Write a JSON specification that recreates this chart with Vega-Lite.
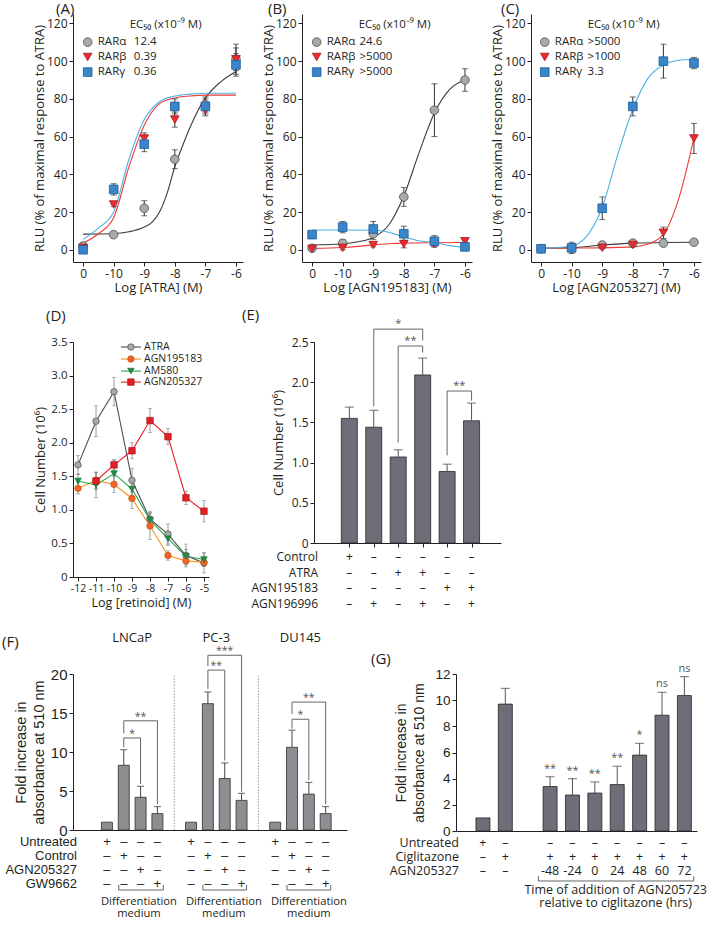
{
"$schema":"https://vega.github.io/schema/vega-lite/v6.json",
"background":"white",
"padding":{"left":2,"top":2,"right":2,"bottom":2},
"config":{
 "view":{"stroke":null},
 "font":"Open Sans",
 "axis":{"domainColor":"#231f20","tickColor":"#231f20","labelColor":"#231f20","titleColor":"#231f20","labelFont":"Open Sans","titleFont":"Open Sans","titleFontWeight":"normal","labelFontSize":12,"titleFontSize":13,"tickSize":4,"grid":false,"labelPadding":2,"titlePadding":5,"labelFlush":false,"labelOverlap":false,"labelBound":false,"domainWidth":1,"tickWidth":1},
 "title":{"font":"Open Sans","fontSize":15,"fontWeight":"normal","anchor":"start","frame":"group","color":"#231f20"},
 "text":{"font":"Open Sans","color":"#231f20"}
},
"datasets":{
 "Apts":[
  {"r":"RARα","d":-11,"v":2,"lo":0.5,"hi":3.5},{"r":"RARα","d":-10,"v":8,"lo":6.5,"hi":9.5},{"r":"RARα","d":-9,"v":22,"lo":18,"hi":26},{"r":"RARα","d":-8,"v":48,"lo":43,"hi":53},{"r":"RARα","d":-7,"v":77,"lo":73,"hi":81},{"r":"RARα","d":-6,"v":101,"lo":93,"hi":109},
  {"r":"RARβ","d":-11,"v":1,"lo":0,"hi":2},{"r":"RARβ","d":-10,"v":24,"lo":23,"hi":25},{"r":"RARβ","d":-9,"v":59,"lo":56,"hi":62},{"r":"RARβ","d":-8,"v":69,"lo":65,"hi":73},{"r":"RARβ","d":-7,"v":74,"lo":71,"hi":77},{"r":"RARβ","d":-6,"v":101,"lo":95,"hi":107},
  {"r":"RARγ","d":-11,"v":0,"lo":-1,"hi":1},{"r":"RARγ","d":-10,"v":32,"lo":29,"hi":35},{"r":"RARγ","d":-9,"v":56,"lo":52,"hi":60},{"r":"RARγ","d":-8,"v":76,"lo":72,"hi":80},{"r":"RARγ","d":-7,"v":76,"lo":72,"hi":80},{"r":"RARγ","d":-6,"v":98,"lo":92,"hi":104}],
 "Afit":[
  {"r":"RARα","d":-11,"v":8.3},{"r":"RARα","d":-10,"v":8.5},{"r":"RARα","d":-9.5,"v":9.5},{"r":"RARα","d":-9,"v":12},{"r":"RARα","d":-8.75,"v":14.5},{"r":"RARα","d":-8.5,"v":20},{"r":"RARα","d":-8.25,"v":30},{"r":"RARα","d":-8,"v":44},{"r":"RARα","d":-7.75,"v":55},{"r":"RARα","d":-7.5,"v":65},{"r":"RARα","d":-7,"v":80.5},{"r":"RARα","d":-6.5,"v":89},{"r":"RARα","d":-6,"v":94.5},
  {"r":"RARβ","d":-11,"v":3.5},{"r":"RARβ","d":-10.5,"v":8.5},{"r":"RARβ","d":-10,"v":17},{"r":"RARβ","d":-9.5,"v":44},{"r":"RARβ","d":-9,"v":66},{"r":"RARβ","d":-8.5,"v":77.5},{"r":"RARβ","d":-8,"v":80.5},{"r":"RARβ","d":-7.5,"v":81.5},{"r":"RARβ","d":-7,"v":82},{"r":"RARβ","d":-6,"v":82},
  {"r":"RARγ","d":-11,"v":5.5},{"r":"RARγ","d":-10.5,"v":11.5},{"r":"RARγ","d":-10,"v":20},{"r":"RARγ","d":-9.5,"v":48},{"r":"RARγ","d":-9,"v":69},{"r":"RARγ","d":-8.5,"v":78.5},{"r":"RARγ","d":-8,"v":81.5},{"r":"RARγ","d":-7.5,"v":82.5},{"r":"RARγ","d":-7,"v":83},{"r":"RARγ","d":-6,"v":83}],
 "Bpts":[
  {"r":"RARα","d":-11,"v":0.8,"lo":0.3,"hi":1.3},{"r":"RARα","d":-10,"v":3.4,"lo":1.4,"hi":5.4},{"r":"RARα","d":-9,"v":8.5,"lo":5.5,"hi":11.5},{"r":"RARα","d":-8,"v":28,"lo":23,"hi":33},{"r":"RARα","d":-7,"v":74,"lo":60,"hi":88},{"r":"RARα","d":-6,"v":90,"lo":84,"hi":96},
  {"r":"RARβ","d":-11,"v":0.5,"lo":0,"hi":1},{"r":"RARβ","d":-10,"v":1,"lo":0,"hi":2},{"r":"RARβ","d":-9,"v":2.5,"lo":1.5,"hi":3.5},{"r":"RARβ","d":-8,"v":3,"lo":1,"hi":5},{"r":"RARβ","d":-7,"v":3,"lo":1.5,"hi":4.5},{"r":"RARβ","d":-6,"v":4.5,"lo":3.5,"hi":5.5},
  {"r":"RARγ","d":-11,"v":8,"lo":7,"hi":9},{"r":"RARγ","d":-10,"v":12,"lo":9,"hi":15},{"r":"RARγ","d":-9,"v":11,"lo":7,"hi":15},{"r":"RARγ","d":-8,"v":8.5,"lo":4.5,"hi":12.5},{"r":"RARγ","d":-7,"v":4.5,"lo":1.5,"hi":7.5},{"r":"RARγ","d":-6,"v":1.5,"lo":0.5,"hi":2.5}],
 "Bfit":[
  {"r":"RARα","d":-11,"v":2.5},{"r":"RARα","d":-10,"v":3.2},{"r":"RARα","d":-9.5,"v":4.2},{"r":"RARα","d":-9,"v":6.5},{"r":"RARα","d":-8.5,"v":13},{"r":"RARα","d":-8,"v":28.5},{"r":"RARα","d":-7.5,"v":51.5},{"r":"RARα","d":-7,"v":72.5},{"r":"RARα","d":-6.5,"v":85},{"r":"RARα","d":-6,"v":90},
  {"r":"RARβ","d":-11,"v":0.7},{"r":"RARβ","d":-10,"v":1.2},{"r":"RARβ","d":-9.5,"v":1.8},{"r":"RARβ","d":-9,"v":2.6},{"r":"RARβ","d":-8.5,"v":3.2},{"r":"RARβ","d":-8,"v":3.5},{"r":"RARβ","d":-7,"v":3.7},{"r":"RARβ","d":-6,"v":3.8},
  {"r":"RARγ","d":-11,"v":10.5},{"r":"RARγ","d":-10,"v":10.5},{"r":"RARγ","d":-9,"v":10.3},{"r":"RARγ","d":-8.5,"v":9.3},{"r":"RARγ","d":-8,"v":6.8},{"r":"RARγ","d":-7.5,"v":4.8},{"r":"RARγ","d":-7,"v":3.8},{"r":"RARγ","d":-6.5,"v":2.2},{"r":"RARγ","d":-6,"v":1.3}],
 "Cpts":[
  {"r":"RARα","d":-11,"v":0.5,"lo":0,"hi":1},{"r":"RARα","d":-10,"v":1,"lo":0.5,"hi":1.5},{"r":"RARα","d":-9,"v":2.5,"lo":1.5,"hi":3.5},{"r":"RARα","d":-8,"v":3.5,"lo":2.5,"hi":4.5},{"r":"RARα","d":-7,"v":3.5,"lo":2.5,"hi":4.5},{"r":"RARα","d":-6,"v":4,"lo":3,"hi":5},
  {"r":"RARβ","d":-11,"v":0.3,"lo":0,"hi":0.6},{"r":"RARβ","d":-10,"v":0.3,"lo":-0.2,"hi":0.8},{"r":"RARβ","d":-9,"v":1,"lo":0.5,"hi":1.5},{"r":"RARβ","d":-8,"v":2.5,"lo":1.5,"hi":3.5},{"r":"RARβ","d":-7,"v":9,"lo":6,"hi":12},{"r":"RARβ","d":-6,"v":59,"lo":51,"hi":67},
  {"r":"RARγ","d":-11,"v":0.5,"lo":0,"hi":1},{"r":"RARγ","d":-10,"v":1,"lo":-2,"hi":4},{"r":"RARγ","d":-9,"v":22,"lo":16,"hi":28},{"r":"RARγ","d":-8,"v":76,"lo":71,"hi":81},{"r":"RARγ","d":-7,"v":100,"lo":91,"hi":109},{"r":"RARγ","d":-6,"v":99,"lo":96,"hi":102}],
 "Cfit":[
  {"r":"RARα","d":-11,"v":0.8},{"r":"RARα","d":-10,"v":1.1},{"r":"RARα","d":-9,"v":2.5},{"r":"RARα","d":-8,"v":3.5},{"r":"RARα","d":-7,"v":3.8},{"r":"RARα","d":-6,"v":4},
  {"r":"RARβ","d":-11,"v":0.8},{"r":"RARβ","d":-10,"v":0.9},{"r":"RARβ","d":-9,"v":1},{"r":"RARβ","d":-8,"v":1.5},{"r":"RARβ","d":-7.5,"v":3},{"r":"RARβ","d":-7,"v":8.3},{"r":"RARβ","d":-6.5,"v":27},{"r":"RARβ","d":-6,"v":59.5},
  {"r":"RARγ","d":-11,"v":0.7},{"r":"RARγ","d":-10,"v":2},{"r":"RARγ","d":-9.5,"v":7.4},{"r":"RARγ","d":-9,"v":22.4},{"r":"RARγ","d":-8.5,"v":50},{"r":"RARγ","d":-8,"v":74.5},{"r":"RARγ","d":-7.5,"v":91},{"r":"RARγ","d":-7,"v":98},{"r":"RARγ","d":-6.5,"v":100.5},{"r":"RARγ","d":-6,"v":101}],
 "D":[
  {"s":"ATRA","c":-12,"v":1.67,"lo":1.53,"hi":1.81},{"s":"ATRA","c":-11,"v":2.32,"lo":2.09,"hi":2.55},{"s":"ATRA","c":-10,"v":2.76,"lo":2.55,"hi":2.97},{"s":"ATRA","c":-9,"v":1.44,"lo":1.26,"hi":1.62},{"s":"ATRA","c":-8,"v":0.86,"lo":0.74,"hi":0.98},{"s":"ATRA","c":-7,"v":0.64,"lo":0.49,"hi":0.79},{"s":"ATRA","c":-6,"v":0.32,"lo":0.15,"hi":0.49},{"s":"ATRA","c":-5,"v":0.21,"lo":0.06,"hi":0.36},
  {"s":"AGN195183","c":-12,"v":1.32,"lo":1.24,"hi":1.4},{"s":"AGN195183","c":-11,"v":1.44,"lo":1.32,"hi":1.56},{"s":"AGN195183","c":-10,"v":1.38,"lo":1.26,"hi":1.5},{"s":"AGN195183","c":-9,"v":1.17,"lo":1.02,"hi":1.32},{"s":"AGN195183","c":-8,"v":0.76,"lo":0.56,"hi":0.96},{"s":"AGN195183","c":-7,"v":0.32,"lo":0.25,"hi":0.39},{"s":"AGN195183","c":-6,"v":0.24,"lo":0.18,"hi":0.3},{"s":"AGN195183","c":-5,"v":0.22,"lo":0.16,"hi":0.28},
  {"s":"AM580","c":-12,"v":1.43,"lo":1.33,"hi":1.53},{"s":"AM580","c":-11,"v":1.37,"lo":1.18,"hi":1.56},{"s":"AM580","c":-10,"v":1.54,"lo":1.34,"hi":1.74},{"s":"AM580","c":-9,"v":1.31,"lo":1.21,"hi":1.41},{"s":"AM580","c":-8,"v":0.85,"lo":0.75,"hi":0.95},{"s":"AM580","c":-7,"v":0.57,"lo":0.47,"hi":0.67},{"s":"AM580","c":-6,"v":0.31,"lo":0.21,"hi":0.41},{"s":"AM580","c":-5,"v":0.26,"lo":0.16,"hi":0.36},
  {"s":"AGN205327","c":-11,"v":1.43,"lo":1.3,"hi":1.56},{"s":"AGN205327","c":-10,"v":1.67,"lo":1.59,"hi":1.75},{"s":"AGN205327","c":-9,"v":1.88,"lo":1.76,"hi":2.0},{"s":"AGN205327","c":-8,"v":2.33,"lo":2.15,"hi":2.51},{"s":"AGN205327","c":-7,"v":2.09,"lo":1.97,"hi":2.21},{"s":"AGN205327","c":-6,"v":1.18,"lo":1.08,"hi":1.28},{"s":"AGN205327","c":-5,"v":0.98,"lo":0.82,"hi":1.14}],
 "E":[{"i":1,"v":1.55,"hi":1.69},{"i":2,"v":1.44,"hi":1.65},{"i":3,"v":1.07,"hi":1.16},{"i":4,"v":2.09,"hi":2.3},{"i":5,"v":0.89,"hi":0.98},{"i":6,"v":1.52,"hi":1.74}],
 "Ebr":[{"x1":2,"x2":4,"xm":3,"top":2.66,"l1":1.7,"l2":2.52,"lab":"*"},{"x1":3,"x2":4,"xm":3.5,"top":2.45,"l1":1.25,"l2":2.37,"lab":"**"},{"x1":5,"x2":6,"xm":5.5,"top":1.89,"l1":1.09,"l2":1.77,"lab":"**"}],
 "Etab":[
  {"r":1,"i":1,"s":"+"},{"r":1,"i":2,"s":"–"},{"r":1,"i":3,"s":"–"},{"r":1,"i":4,"s":"–"},{"r":1,"i":5,"s":"–"},{"r":1,"i":6,"s":"–"},
  {"r":2,"i":1,"s":"–"},{"r":2,"i":2,"s":"–"},{"r":2,"i":3,"s":"+"},{"r":2,"i":4,"s":"+"},{"r":2,"i":5,"s":"–"},{"r":2,"i":6,"s":"–"},
  {"r":3,"i":1,"s":"–"},{"r":3,"i":2,"s":"–"},{"r":3,"i":3,"s":"–"},{"r":3,"i":4,"s":"–"},{"r":3,"i":5,"s":"+"},{"r":3,"i":6,"s":"+"},
  {"r":4,"i":1,"s":"–"},{"r":4,"i":2,"s":"+"},{"r":4,"i":3,"s":"–"},{"r":4,"i":4,"s":"+"},{"r":4,"i":5,"s":"–"},{"r":4,"i":6,"s":"+"}],
 "Erows":[{"r":1,"lab":"Control"},{"r":2,"lab":"ATRA"},{"r":3,"lab":"AGN195183"},{"r":4,"lab":"AGN196996"}],
 "F":[{"x":1,"v":1},{"x":2,"v":8.3,"hi":10.3},{"x":3,"v":4.2,"hi":5.6},{"x":4,"v":2.1,"hi":3.0},{"x":6,"v":1},{"x":7,"v":16.2,"hi":17.7},{"x":8,"v":6.6,"hi":8.6},{"x":9,"v":3.8,"hi":4.7},{"x":11,"v":1},{"x":12,"v":10.6,"hi":12.8},{"x":13,"v":4.6,"hi":6.1},{"x":14,"v":2.1,"hi":3.0}],
 "Fbr":[{"x1":2,"x2":3,"xm":2.5,"top":11.8,"l1":10.6,"l2":5.9,"lab":"*"},{"x1":2,"x2":4,"xm":3,"top":14.0,"l1":12.4,"l2":3.3,"lab":"**"},{"x1":7,"x2":8,"xm":7.5,"top":20.5,"l1":18.1,"l2":8.9,"lab":"**"},{"x1":7,"x2":9,"xm":8,"top":22.4,"l1":21.0,"l2":4.9,"lab":"***"},{"x1":12,"x2":13,"xm":12.5,"top":14.2,"l1":13.0,"l2":6.4,"lab":"*"},{"x1":12,"x2":14,"xm":13,"top":16.4,"l1":14.9,"l2":3.3,"lab":"**"}],
 "Fsep":[{"x":5},{"x":10}],
 "Fgrp":[{"g":"LNCaP","gx":2.5},{"g":"PC-3","gx":7.5},{"g":"DU145","gx":12.5}],
 "Ftab":[
  {"r":1,"x":1,"s":"+"},{"r":1,"x":2,"s":"–"},{"r":1,"x":3,"s":"–"},{"r":1,"x":4,"s":"–"},{"r":1,"x":6,"s":"+"},{"r":1,"x":7,"s":"–"},{"r":1,"x":8,"s":"–"},{"r":1,"x":9,"s":"–"},{"r":1,"x":11,"s":"+"},{"r":1,"x":12,"s":"–"},{"r":1,"x":13,"s":"–"},{"r":1,"x":14,"s":"–"},
  {"r":2,"x":1,"s":"–"},{"r":2,"x":2,"s":"+"},{"r":2,"x":3,"s":"–"},{"r":2,"x":4,"s":"–"},{"r":2,"x":6,"s":"–"},{"r":2,"x":7,"s":"+"},{"r":2,"x":8,"s":"–"},{"r":2,"x":9,"s":"–"},{"r":2,"x":11,"s":"–"},{"r":2,"x":12,"s":"+"},{"r":2,"x":13,"s":"–"},{"r":2,"x":14,"s":"–"},
  {"r":3,"x":1,"s":"–"},{"r":3,"x":2,"s":"–"},{"r":3,"x":3,"s":"+"},{"r":3,"x":4,"s":"–"},{"r":3,"x":6,"s":"–"},{"r":3,"x":7,"s":"–"},{"r":3,"x":8,"s":"+"},{"r":3,"x":9,"s":"–"},{"r":3,"x":11,"s":"–"},{"r":3,"x":12,"s":"–"},{"r":3,"x":13,"s":"+"},{"r":3,"x":14,"s":"–"},
  {"r":4,"x":1,"s":"–"},{"r":4,"x":2,"s":"–"},{"r":4,"x":3,"s":"–"},{"r":4,"x":4,"s":"+"},{"r":4,"x":6,"s":"–"},{"r":4,"x":7,"s":"–"},{"r":4,"x":8,"s":"–"},{"r":4,"x":9,"s":"+"},{"r":4,"x":11,"s":"–"},{"r":4,"x":12,"s":"–"},{"r":4,"x":13,"s":"–"},{"r":4,"x":14,"s":"+"}],
 "Frows":[{"r":1,"lab":"Untreated"},{"r":2,"lab":"Control"},{"r":3,"lab":"AGN205327"},{"r":4,"lab":"GW9662"}],
 "Fdm":[{"b1":1.7,"b2":4.35,"c":2.9},{"b1":6.7,"b2":9.3,"c":7.95},{"b1":11.7,"b2":14.3,"c":13}],
 "G":[{"p":0,"v":1.0},{"p":1,"v":9.7,"hi":10.9},{"p":3,"v":3.4,"hi":4.15,"sig":"**"},{"p":4,"v":2.75,"hi":4.0,"sig":"**"},{"p":5,"v":2.9,"hi":3.75,"sig":"**"},{"p":6,"v":3.55,"hi":4.95,"sig":"**"},{"p":7,"v":5.8,"hi":6.7,"sig":"*"},{"p":8,"v":8.85,"hi":10.6,"sig":"ns"},{"p":9,"v":10.35,"hi":11.8,"sig":"ns"}],
 "Gtab":[
  {"r":1,"p":0,"s":"+"},{"r":1,"p":1,"s":"–"},{"r":1,"p":3,"s":"–"},{"r":1,"p":4,"s":"–"},{"r":1,"p":5,"s":"–"},{"r":1,"p":6,"s":"–"},{"r":1,"p":7,"s":"–"},{"r":1,"p":8,"s":"–"},{"r":1,"p":9,"s":"–"},
  {"r":2,"p":0,"s":"–"},{"r":2,"p":1,"s":"+"},{"r":2,"p":3,"s":"+"},{"r":2,"p":4,"s":"+"},{"r":2,"p":5,"s":"+"},{"r":2,"p":6,"s":"+"},{"r":2,"p":7,"s":"+"},{"r":2,"p":8,"s":"+"},{"r":2,"p":9,"s":"+"},
  {"r":3,"p":0,"s":"–"},{"r":3,"p":1,"s":"–"},{"r":3,"p":3,"s":"-48"},{"r":3,"p":4,"s":"-24"},{"r":3,"p":5,"s":"0"},{"r":3,"p":6,"s":"24"},{"r":3,"p":7,"s":"48"},{"r":3,"p":8,"s":"60"},{"r":3,"p":9,"s":"72"}],
 "Grows":[{"r":1,"lab":"Untreated"},{"r":2,"lab":"Ciglitazone"},{"r":3,"lab":"AGN205327"}],
 "Gdm":[{"b1":2.48,"b2":9.42,"c":5.93}]
},
"align":"none",
"resolve":{"scale":{"color":"independent","shape":"independent","fill":"independent","stroke":"independent"}},
"vconcat":[
 {"hconcat":[
  {"width":170,"height":248,
   "layer":[
    {"data":{"name":"Afit"},"mark":{"type":"line","interpolate":"monotone","strokeWidth":1.1},
     "encoding":{
      "x":{"field":"d","type":"quantitative","scale":{"domain":[-11.33,-5.77],"nice":false,"zero":false},"axis":{"values":[-11,-10,-9,-8,-7,-6],"tickCount":20,"labelExpr":"datum.value==-11?'0':''+datum.value","title":"Log [ATRA] (M)","titlePadding":2,"labelOverlap":false}},
      "y":{"field":"v","type":"quantitative","scale":{"domain":[-6.5,125],"nice":false,"zero":false},"axis":{"values":[0,20,40,60,80,100,120],"tickCount":20,"title":"RLU (% of maximal response to ATRA)","titlePadding":0,"labelOverlap":false}},
      "color":{"field":"r","type":"nominal","scale":{"domain":["RARα","RARβ","RARγ"],"range":["#3a3a3a","#ee3b37","#4fb0e5"]},"legend":null}}},
    {"data":{"name":"Apts"},"mark":{"type":"rule","color":"#333333","strokeWidth":1},
     "encoding":{"x":{"field":"d","type":"quantitative"},"y":{"field":"lo","type":"quantitative"},"y2":{"field":"hi"}}},
    {"data":{"name":"Apts"},"mark":{"type":"tick","orient":"horizontal","size":6,"thickness":1,"color":"#333333"},
     "encoding":{"x":{"field":"d","type":"quantitative"},"y":{"field":"lo","type":"quantitative"}}},
    {"data":{"name":"Apts"},"mark":{"type":"tick","orient":"horizontal","size":6,"thickness":1,"color":"#333333"},
     "encoding":{"x":{"field":"d","type":"quantitative"},"y":{"field":"hi","type":"quantitative"}}},
    {"data":{"name":"Apts"},"mark":{"type":"point","filled":true,"opacity":1,"size":75,"strokeWidth":0.8},
     "encoding":{"x":{"field":"d","type":"quantitative"},"y":{"field":"v","type":"quantitative"},
      "shape":{"field":"r","type":"nominal","scale":{"domain":["RARα","RARβ","RARγ"],"range":["circle","triangle-down","square"]},"legend":null},
      "fill":{"field":"r","type":"nominal","scale":{"domain":["RARα","RARβ","RARγ"],"range":["#a7a9ac","#ed2a2f","#3a86cb"]},"legend":null},
      "stroke":{"field":"r","type":"nominal","scale":{"domain":["RARα","RARβ","RARγ"],"range":["#505052","#a01b1f","#1d5a99"]},"legend":null}}},
    {"data":{"values":[{}]},"mark":{"type":"point","shape":"circle","filled":true,"opacity":1,"fill":"#a7a9ac","stroke":"#505052","strokeWidth":0.8,"size":75},"encoding":{"x":{"datum":-10.85},"y":{"datum":110.1}}},
    {"data":{"values":[{}]},"mark":{"type":"point","shape":"triangle-down","filled":true,"opacity":1,"fill":"#ed2a2f","stroke":"#a01b1f","strokeWidth":0.8,"size":75},"encoding":{"x":{"datum":-10.85},"y":{"datum":102.2}}},
    {"data":{"values":[{}]},"mark":{"type":"point","shape":"square","filled":true,"opacity":1,"fill":"#3a86cb","stroke":"#1d5a99","strokeWidth":0.8,"size":75},"encoding":{"x":{"datum":-10.85},"y":{"datum":94.2}}},
    {"data":{"values":[{}]},"mark":{"type":"text","text":"RARα","fontSize":11.5,"align":"left","baseline":"middle"},"encoding":{"x":{"datum":-10.52},"y":{"datum":110.1}}},
    {"data":{"values":[{}]},"mark":{"type":"text","text":"RARβ","fontSize":11.5,"align":"left","baseline":"middle"},"encoding":{"x":{"datum":-10.52},"y":{"datum":102.2}}},
    {"data":{"values":[{}]},"mark":{"type":"text","text":"RARγ","fontSize":11.5,"align":"left","baseline":"middle"},"encoding":{"x":{"datum":-10.52},"y":{"datum":94.2}}},
    {"data":{"values":[{}]},"mark":{"type":"text","text":"12.4","fontSize":11.5,"align":"left","baseline":"middle"},"encoding":{"x":{"datum":-9.34},"y":{"datum":110.1}}},
    {"data":{"values":[{}]},"mark":{"type":"text","text":"0.39","fontSize":11.5,"align":"left","baseline":"middle"},"encoding":{"x":{"datum":-9.34},"y":{"datum":102.2}}},
    {"data":{"values":[{}]},"mark":{"type":"text","text":"0.36","fontSize":11.5,"align":"left","baseline":"middle"},"encoding":{"x":{"datum":-9.34},"y":{"datum":94.2}}},
    {"data":{"values":[{}]},"mark":{"type":"text","text":"EC₅₀ (x10⁻⁹ M)","fontSize":11.5,"align":"center","baseline":"middle"},
     "encoding":{"x":{"datum":-8.3},"y":{"datum":119}}},
    {"data":{"values":[{}]},"mark":{"type":"text","text":"(A)","fontSize":15,"align":"left","baseline":"middle","dx":-17,"dy":-5},
     "encoding":{"x":{"datum":-11.33},"y":{"datum":125}}}
   ]},
  {"width":170,"height":248,
   "layer":[
    {"data":{"name":"Bfit"},"mark":{"type":"line","interpolate":"monotone","strokeWidth":1.1},
     "encoding":{
      "x":{"field":"d","type":"quantitative","scale":{"domain":[-11.33,-5.77],"nice":false,"zero":false},"axis":{"values":[-11,-10,-9,-8,-7,-6],"tickCount":20,"labelExpr":"datum.value==-11?'0':''+datum.value","title":"Log [AGN195183] (M)","titlePadding":2,"labelOverlap":false}},
      "y":{"field":"v","type":"quantitative","scale":{"domain":[-6.5,125],"nice":false,"zero":false},"axis":{"values":[0,20,40,60,80,100,120],"tickCount":20,"title":"RLU (% of maximal response to ATRA)","titlePadding":0,"labelOverlap":false}},
      "color":{"field":"r","type":"nominal","scale":{"domain":["RARα","RARβ","RARγ"],"range":["#3a3a3a","#ee3b37","#4fb0e5"]},"legend":null}}},
    {"data":{"name":"Bpts"},"mark":{"type":"rule","color":"#333333","strokeWidth":1},
     "encoding":{"x":{"field":"d","type":"quantitative"},"y":{"field":"lo","type":"quantitative"},"y2":{"field":"hi"}}},
    {"data":{"name":"Bpts"},"mark":{"type":"tick","orient":"horizontal","size":6,"thickness":1,"color":"#333333"},
     "encoding":{"x":{"field":"d","type":"quantitative"},"y":{"field":"lo","type":"quantitative"}}},
    {"data":{"name":"Bpts"},"mark":{"type":"tick","orient":"horizontal","size":6,"thickness":1,"color":"#333333"},
     "encoding":{"x":{"field":"d","type":"quantitative"},"y":{"field":"hi","type":"quantitative"}}},
    {"data":{"name":"Bpts"},"mark":{"type":"point","filled":true,"opacity":1,"size":75,"strokeWidth":0.8},
     "encoding":{"x":{"field":"d","type":"quantitative"},"y":{"field":"v","type":"quantitative"},
      "shape":{"field":"r","type":"nominal","scale":{"domain":["RARα","RARβ","RARγ"],"range":["circle","triangle-down","square"]},"legend":null},
      "fill":{"field":"r","type":"nominal","scale":{"domain":["RARα","RARβ","RARγ"],"range":["#a7a9ac","#ed2a2f","#3a86cb"]},"legend":null},
      "stroke":{"field":"r","type":"nominal","scale":{"domain":["RARα","RARβ","RARγ"],"range":["#505052","#a01b1f","#1d5a99"]},"legend":null}}},
    {"data":{"values":[{}]},"mark":{"type":"point","shape":"circle","filled":true,"opacity":1,"fill":"#a7a9ac","stroke":"#505052","strokeWidth":0.8,"size":75},"encoding":{"x":{"datum":-10.85},"y":{"datum":110.1}}},
    {"data":{"values":[{}]},"mark":{"type":"point","shape":"triangle-down","filled":true,"opacity":1,"fill":"#ed2a2f","stroke":"#a01b1f","strokeWidth":0.8,"size":75},"encoding":{"x":{"datum":-10.85},"y":{"datum":102.2}}},
    {"data":{"values":[{}]},"mark":{"type":"point","shape":"square","filled":true,"opacity":1,"fill":"#3a86cb","stroke":"#1d5a99","strokeWidth":0.8,"size":75},"encoding":{"x":{"datum":-10.85},"y":{"datum":94.2}}},
    {"data":{"values":[{}]},"mark":{"type":"text","text":"RARα","fontSize":11.5,"align":"left","baseline":"middle"},"encoding":{"x":{"datum":-10.52},"y":{"datum":110.1}}},
    {"data":{"values":[{}]},"mark":{"type":"text","text":"RARβ","fontSize":11.5,"align":"left","baseline":"middle"},"encoding":{"x":{"datum":-10.52},"y":{"datum":102.2}}},
    {"data":{"values":[{}]},"mark":{"type":"text","text":"RARγ","fontSize":11.5,"align":"left","baseline":"middle"},"encoding":{"x":{"datum":-10.52},"y":{"datum":94.2}}},
    {"data":{"values":[{}]},"mark":{"type":"text","text":"24.6","fontSize":11.5,"align":"left","baseline":"middle"},"encoding":{"x":{"datum":-9.45},"y":{"datum":110.1}}},
    {"data":{"values":[{}]},"mark":{"type":"text","text":">5000","fontSize":11.5,"align":"left","baseline":"middle"},"encoding":{"x":{"datum":-9.45},"y":{"datum":102.2}}},
    {"data":{"values":[{}]},"mark":{"type":"text","text":">5000","fontSize":11.5,"align":"left","baseline":"middle"},"encoding":{"x":{"datum":-9.45},"y":{"datum":94.2}}},
    {"data":{"values":[{}]},"mark":{"type":"text","text":"EC₅₀ (x10⁻⁹ M)","fontSize":11.5,"align":"center","baseline":"middle"},
     "encoding":{"x":{"datum":-8.3},"y":{"datum":119}}},
    {"data":{"values":[{}]},"mark":{"type":"text","text":"(B)","fontSize":15,"align":"left","baseline":"middle","dx":-34,"dy":-5},
     "encoding":{"x":{"datum":-11.33},"y":{"datum":125}}}
   ]},
  {"width":170,"height":248,
   "layer":[
    {"data":{"name":"Cfit"},"mark":{"type":"line","interpolate":"monotone","strokeWidth":1.1},
     "encoding":{
      "x":{"field":"d","type":"quantitative","scale":{"domain":[-11.33,-5.77],"nice":false,"zero":false},"axis":{"values":[-11,-10,-9,-8,-7,-6],"tickCount":20,"labelExpr":"datum.value==-11?'0':''+datum.value","title":"Log [AGN205327] (M)","titlePadding":2,"labelOverlap":false}},
      "y":{"field":"v","type":"quantitative","scale":{"domain":[-6.5,125],"nice":false,"zero":false},"axis":{"values":[0,20,40,60,80,100,120],"tickCount":20,"title":"RLU (% of maximal response to ATRA)","titlePadding":0,"labelOverlap":false}},
      "color":{"field":"r","type":"nominal","scale":{"domain":["RARα","RARβ","RARγ"],"range":["#3a3a3a","#ee3b37","#4fb0e5"]},"legend":null}}},
    {"data":{"name":"Cpts"},"mark":{"type":"rule","color":"#333333","strokeWidth":1},
     "encoding":{"x":{"field":"d","type":"quantitative"},"y":{"field":"lo","type":"quantitative"},"y2":{"field":"hi"}}},
    {"data":{"name":"Cpts"},"mark":{"type":"tick","orient":"horizontal","size":6,"thickness":1,"color":"#333333"},
     "encoding":{"x":{"field":"d","type":"quantitative"},"y":{"field":"lo","type":"quantitative"}}},
    {"data":{"name":"Cpts"},"mark":{"type":"tick","orient":"horizontal","size":6,"thickness":1,"color":"#333333"},
     "encoding":{"x":{"field":"d","type":"quantitative"},"y":{"field":"hi","type":"quantitative"}}},
    {"data":{"name":"Cpts"},"mark":{"type":"point","filled":true,"opacity":1,"size":75,"strokeWidth":0.8},
     "encoding":{"x":{"field":"d","type":"quantitative"},"y":{"field":"v","type":"quantitative"},
      "shape":{"field":"r","type":"nominal","scale":{"domain":["RARα","RARβ","RARγ"],"range":["circle","triangle-down","square"]},"legend":null},
      "fill":{"field":"r","type":"nominal","scale":{"domain":["RARα","RARβ","RARγ"],"range":["#a7a9ac","#ed2a2f","#3a86cb"]},"legend":null},
      "stroke":{"field":"r","type":"nominal","scale":{"domain":["RARα","RARβ","RARγ"],"range":["#505052","#a01b1f","#1d5a99"]},"legend":null}}},
    {"data":{"values":[{}]},"mark":{"type":"point","shape":"circle","filled":true,"opacity":1,"fill":"#a7a9ac","stroke":"#505052","strokeWidth":0.8,"size":75},"encoding":{"x":{"datum":-10.88},"y":{"datum":110.1}}},
    {"data":{"values":[{}]},"mark":{"type":"point","shape":"triangle-down","filled":true,"opacity":1,"fill":"#ed2a2f","stroke":"#a01b1f","strokeWidth":0.8,"size":75},"encoding":{"x":{"datum":-10.88},"y":{"datum":102.2}}},
    {"data":{"values":[{}]},"mark":{"type":"point","shape":"square","filled":true,"opacity":1,"fill":"#3a86cb","stroke":"#1d5a99","strokeWidth":0.8,"size":75},"encoding":{"x":{"datum":-10.88},"y":{"datum":94.2}}},
    {"data":{"values":[{}]},"mark":{"type":"text","text":"RARα","fontSize":11.5,"align":"left","baseline":"middle"},"encoding":{"x":{"datum":-10.55},"y":{"datum":110.1}}},
    {"data":{"values":[{}]},"mark":{"type":"text","text":"RARβ","fontSize":11.5,"align":"left","baseline":"middle"},"encoding":{"x":{"datum":-10.55},"y":{"datum":102.2}}},
    {"data":{"values":[{}]},"mark":{"type":"text","text":"RARγ","fontSize":11.5,"align":"left","baseline":"middle"},"encoding":{"x":{"datum":-10.55},"y":{"datum":94.2}}},
    {"data":{"values":[{}]},"mark":{"type":"text","text":">5000","fontSize":11.5,"align":"left","baseline":"middle"},"encoding":{"x":{"datum":-9.48},"y":{"datum":110.1}}},
    {"data":{"values":[{}]},"mark":{"type":"text","text":">1000","fontSize":11.5,"align":"left","baseline":"middle"},"encoding":{"x":{"datum":-9.48},"y":{"datum":102.2}}},
    {"data":{"values":[{}]},"mark":{"type":"text","text":"3.3","fontSize":11.5,"align":"left","baseline":"middle"},"encoding":{"x":{"datum":-9.48},"y":{"datum":94.2}}},
    {"data":{"values":[{}]},"mark":{"type":"text","text":"EC₅₀ (x10⁻⁹ M)","fontSize":11.5,"align":"center","baseline":"middle"},
     "encoding":{"x":{"datum":-8.3},"y":{"datum":119}}},
    {"data":{"values":[{}]},"mark":{"type":"text","text":"(C)","fontSize":15,"align":"left","baseline":"middle","dx":-30,"dy":-5},
     "encoding":{"x":{"datum":-11.33},"y":{"datum":125}}}
   ]}
 ],"spacing":19,"resolve":{"scale":{"color":"independent","shape":"independent","fill":"independent","stroke":"independent"}}},
 {"align":"none","resolve":{"scale":{"color":"independent","shape":"independent","fill":"independent","stroke":"independent"}},
  "vconcat":[
  {"hconcat":[
   {"width":136,"height":235,
    "layer":[
     {"data":{"name":"D"},"mark":{"type":"rule","color":"#808285","strokeWidth":0.8},
      "encoding":{"x":{"field":"c","type":"quantitative","scale":{"domain":[-12.28,-4.72],"nice":false,"zero":false},"axis":{"values":[-12,-11,-10,-9,-8,-7,-6,-5],"tickCount":20,"labelExpr":"''+datum.value","labelFontSize":10.5,"title":"Log [retinoid] (M)","titleFontSize":12.5,"titlePadding":3,"labelOverlap":false}},
       "y":{"field":"lo","type":"quantitative","scale":{"domain":[0,3.5],"nice":false},"axis":{"values":[0,0.5,1,1.5,2,2.5,3,3.5],"tickCount":20,"labelExpr":"datum.value==0?'0':format(datum.value,'.1f')","labelFontSize":11.5,"title":"Cell Number (10⁶)","titlePadding":3,"labelOverlap":false}},
       "y2":{"field":"hi"}}},
     {"data":{"name":"D"},"mark":{"type":"tick","orient":"horizontal","size":4,"thickness":0.8,"color":"#808285"},
      "encoding":{"x":{"field":"c","type":"quantitative"},"y":{"field":"lo","type":"quantitative"}}},
     {"data":{"name":"D"},"mark":{"type":"tick","orient":"horizontal","size":4,"thickness":0.8,"color":"#808285"},
      "encoding":{"x":{"field":"c","type":"quantitative"},"y":{"field":"hi","type":"quantitative"}}},
     {"data":{"name":"D"},"mark":{"type":"line","strokeWidth":1.1},
      "encoding":{"x":{"field":"c","type":"quantitative"},"y":{"field":"v","type":"quantitative"},
       "color":{"field":"s","type":"nominal","scale":{"domain":["ATRA","AGN195183","AM580","AGN205327"],"range":["#4d4d4f","#f7941d","#2ba24c","#ed1c24"]},"legend":null}}},
     {"data":{"name":"D"},"mark":{"type":"point","filled":true,"opacity":1,"size":42,"strokeWidth":0.7},
      "encoding":{"x":{"field":"c","type":"quantitative"},"y":{"field":"v","type":"quantitative"},
       "shape":{"field":"s","type":"nominal","scale":{"domain":["ATRA","AGN195183","AM580","AGN205327"],"range":["circle","circle","triangle-down","square"]},"legend":null},
       "fill":{"field":"s","type":"nominal","scale":{"domain":["ATRA","AGN195183","AM580","AGN205327"],"range":["#a7a9ac","#f26522","#1f8f45","#e31e24"]},"legend":null},
       "stroke":{"field":"s","type":"nominal","scale":{"domain":["ATRA","AGN195183","AM580","AGN205327"],"range":["#4d4d4f","#c2501a","#16703a","#a8161b"]},"legend":null}}},
     {"data":{"values":[{}]},"mark":{"type":"rule","color":"#4d4d4f","strokeWidth":1.1},"encoding":{"x":{"datum":-9.61},"x2":{"datum":-8.5},"y":{"datum":3.425}}},
     {"data":{"values":[{}]},"mark":{"type":"rule","color":"#f7941d","strokeWidth":1.1},"encoding":{"x":{"datum":-9.61},"x2":{"datum":-8.5},"y":{"datum":3.246}}},
     {"data":{"values":[{}]},"mark":{"type":"rule","color":"#2ba24c","strokeWidth":1.1},"encoding":{"x":{"datum":-9.61},"x2":{"datum":-8.5},"y":{"datum":3.067}}},
     {"data":{"values":[{}]},"mark":{"type":"rule","color":"#ed1c24","strokeWidth":1.1},"encoding":{"x":{"datum":-9.61},"x2":{"datum":-8.5},"y":{"datum":2.903}}},
     {"data":{"values":[{}]},"mark":{"type":"point","shape":"circle","filled":true,"opacity":1,"fill":"#a7a9ac","stroke":"#4d4d4f","strokeWidth":0.7,"size":42},"encoding":{"x":{"datum":-9.06},"y":{"datum":3.425}}},
     {"data":{"values":[{}]},"mark":{"type":"point","shape":"circle","filled":true,"opacity":1,"fill":"#f26522","stroke":"#c2501a","strokeWidth":0.7,"size":42},"encoding":{"x":{"datum":-9.06},"y":{"datum":3.246}}},
     {"data":{"values":[{}]},"mark":{"type":"point","shape":"triangle-down","filled":true,"opacity":1,"fill":"#1f8f45","stroke":"#16703a","strokeWidth":0.7,"size":42},"encoding":{"x":{"datum":-9.06},"y":{"datum":3.067}}},
     {"data":{"values":[{}]},"mark":{"type":"point","shape":"square","filled":true,"opacity":1,"fill":"#e31e24","stroke":"#a8161b","strokeWidth":0.7,"size":42},"encoding":{"x":{"datum":-9.06},"y":{"datum":2.903}}},
     {"data":{"values":[{}]},"mark":{"type":"text","text":"ATRA","fontSize":10.5,"align":"left","baseline":"middle"},"encoding":{"x":{"datum":-8.33},"y":{"datum":3.425}}},
     {"data":{"values":[{}]},"mark":{"type":"text","text":"AGN195183","fontSize":10.5,"align":"left","baseline":"middle"},"encoding":{"x":{"datum":-8.33},"y":{"datum":3.246}}},
     {"data":{"values":[{}]},"mark":{"type":"text","text":"AM580","fontSize":10.5,"align":"left","baseline":"middle"},"encoding":{"x":{"datum":-8.33},"y":{"datum":3.067}}},
     {"data":{"values":[{}]},"mark":{"type":"text","text":"AGN205327","fontSize":10.5,"align":"left","baseline":"middle"},"encoding":{"x":{"datum":-8.33},"y":{"datum":2.903}}},
     {"data":{"values":[{}]},"mark":{"type":"text","text":"(D)","fontSize":15,"align":"left","baseline":"middle","dx":-27,"dy":-26},
      "encoding":{"x":{"datum":-12.28},"y":{"datum":3.5}}}
    ]},
   {"title":{"text":"(E)","offset":-5,"dx":-72},"width":187,"height":201,
    "resolve":{"scale":{"y":"independent"}},
    "layer":[
     {"layer":[
      {"data":{"name":"E"},"mark":{"type":"bar","size":16,"fill":"#6d6e78","stroke":"#262626","strokeWidth":0.8},
       "encoding":{"x":{"field":"i","type":"quantitative","scale":{"domain":[-0.24,7],"nice":false,"zero":false},"axis":{"values":[1,2,3,4,5,6],"tickCount":20,"labels":false,"title":null}},
        "y":{"field":"v","type":"quantitative","scale":{"domain":[0,2.5],"nice":false},"axis":{"values":[0,0.5,1,1.5,2,2.5],"tickCount":20,"labelExpr":"datum.value==0?'0':format(datum.value,'.1f')","title":"Cell Number (10⁶)","titlePadding":6,"labelOverlap":false}}}},
      {"data":{"name":"E"},"mark":{"type":"rule","color":"#555555","strokeWidth":1},
       "encoding":{"x":{"field":"i","type":"quantitative"},"y":{"field":"v","type":"quantitative"},"y2":{"field":"hi"}}},
      {"data":{"name":"E"},"mark":{"type":"tick","orient":"horizontal","size":9,"thickness":1.2,"color":"#555555"},
       "encoding":{"x":{"field":"i","type":"quantitative"},"y":{"field":"hi","type":"quantitative"}}},
      {"data":{"name":"Ebr"},"mark":{"type":"rule","color":"#555555","strokeWidth":0.9},
       "encoding":{"x":{"field":"x1","type":"quantitative"},"y":{"field":"l1","type":"quantitative"},"y2":{"field":"top"}}},
      {"data":{"name":"Ebr"},"mark":{"type":"rule","color":"#555555","strokeWidth":0.9},
       "encoding":{"x":{"field":"x1","type":"quantitative"},"x2":{"field":"x2"},"y":{"field":"top","type":"quantitative"}}},
      {"data":{"name":"Ebr"},"mark":{"type":"rule","color":"#555555","strokeWidth":0.9},
       "encoding":{"x":{"field":"x2","type":"quantitative"},"y":{"field":"l2","type":"quantitative"},"y2":{"field":"top"}}},
      {"data":{"name":"Ebr"},"mark":{"type":"text","fontSize":11,"dy":-2,"baseline":"alphabetic","color":"#555555"},
       "encoding":{"x":{"field":"xm","type":"quantitative"},"y":{"field":"top","type":"quantitative"},"text":{"field":"lab"}}}
     ]},
     {"layer":[
      {"data":{"name":"Etab"},"mark":{"type":"text","fontSize":12},
       "encoding":{"x":{"field":"i","type":"quantitative"},"y":{"field":"r","type":"quantitative","scale":{"domain":[-12.72,0.11],"nice":false,"zero":false,"reverse":true},"axis":null},"text":{"field":"s"}}},
      {"data":{"name":"Erows"},"mark":{"type":"text","fontSize":12,"align":"right","dx":-1},
       "encoding":{"x":{"datum":-0.24},"y":{"field":"r","type":"quantitative","axis":null},"text":{"field":"lab"}}}
     ]}
    ]}
  ],"spacing":33},
  {"hconcat":[
   {"title":{"text":"(F)","offset":-18,"dx":-71},"width":274,"height":156,
    "resolve":{"scale":{"y":"independent"}},
    "layer":[
     {"layer":[
      {"data":{"name":"F"},"mark":{"type":"bar","size":11,"fill":"#8d8e91","stroke":"#2f2f2f","strokeWidth":0.8},
       "encoding":{"x":{"field":"x","type":"quantitative","scale":{"domain":[-0.72,14.97],"nice":false,"zero":false},"axis":{"labels":false,"ticks":false,"title":null}},
        "y":{"field":"v","type":"quantitative","scale":{"domain":[0,20],"nice":false},"axis":{"values":[0,5,10,15,20],"tickCount":20,"format":"d","labelFont":"Liberation Sans","labelFontSize":15,"title":["Fold increase in","absorbance at 510 nm"],"titleFont":"Liberation Sans","titleFontSize":14.5,"titleLineHeight":18,"titlePadding":4,"labelOverlap":false}}}},
      {"data":{"name":"Fsep"},"mark":{"type":"rule","strokeDash":[1.5,1.5],"color":"#9a9a9a","strokeWidth":1},
       "encoding":{"x":{"field":"x","type":"quantitative"},"y":{"datum":0},"y2":{"datum":20}}},
      {"data":{"name":"F"},"transform":[{"filter":"isValid(datum.hi)"}],"mark":{"type":"rule","color":"#444444","strokeWidth":1},
       "encoding":{"x":{"field":"x","type":"quantitative"},"y":{"field":"v","type":"quantitative"},"y2":{"field":"hi"}}},
      {"data":{"name":"F"},"transform":[{"filter":"isValid(datum.hi)"}],"mark":{"type":"tick","orient":"horizontal","size":7,"thickness":1.2,"color":"#444444"},
       "encoding":{"x":{"field":"x","type":"quantitative"},"y":{"field":"hi","type":"quantitative"}}},
      {"data":{"name":"Fbr"},"mark":{"type":"rule","color":"#555555","strokeWidth":0.9},
       "encoding":{"x":{"field":"x1","type":"quantitative"},"y":{"field":"l1","type":"quantitative"},"y2":{"field":"top"}}},
      {"data":{"name":"Fbr"},"mark":{"type":"rule","color":"#555555","strokeWidth":0.9},
       "encoding":{"x":{"field":"x1","type":"quantitative"},"x2":{"field":"x2"},"y":{"field":"top","type":"quantitative"}}},
      {"data":{"name":"Fbr"},"mark":{"type":"rule","color":"#555555","strokeWidth":0.9},
       "encoding":{"x":{"field":"x2","type":"quantitative"},"y":{"field":"l2","type":"quantitative"},"y2":{"field":"top"}}},
      {"data":{"name":"Fbr"},"mark":{"type":"text","fontSize":10.5,"dy":-1,"baseline":"alphabetic","color":"#555555"},
       "encoding":{"x":{"field":"xm","type":"quantitative"},"y":{"field":"top","type":"quantitative"},"text":{"field":"lab"}}},
      {"data":{"name":"Fgrp"},"mark":{"type":"text","fontSize":13,"baseline":"middle"},
       "encoding":{"x":{"field":"gx","type":"quantitative"},"y":{"datum":24.6},"text":{"field":"g"}}}
     ]},
     {"layer":[
      {"data":{"name":"Ftab"},"mark":{"type":"text","fontSize":13,"font":"Liberation Sans"},
       "encoding":{"x":{"field":"x","type":"quantitative"},"y":{"field":"r","type":"quantitative","scale":{"domain":[-11,0.143],"nice":false,"zero":false,"reverse":true},"axis":null},"text":{"field":"s"}}},
      {"data":{"name":"Frows"},"mark":{"type":"text","fontSize":13,"font":"Liberation Sans","align":"right","dx":-1},
       "encoding":{"x":{"datum":-0.72},"y":{"field":"r","type":"quantitative","axis":null},"text":{"field":"lab"}}},
      {"data":{"name":"Fdm"},"mark":{"type":"rule","color":"#555555","strokeWidth":0.9},
       "encoding":{"x":{"field":"b1","type":"quantitative"},"x2":{"field":"b2"},"y":{"datum":4.43}}},
      {"data":{"name":"Fdm"},"mark":{"type":"rule","color":"#555555","strokeWidth":0.9},
       "encoding":{"x":{"field":"b1","type":"quantitative"},"y":{"datum":4.43},"y2":{"datum":4.07}}},
      {"data":{"name":"Fdm"},"mark":{"type":"rule","color":"#555555","strokeWidth":0.9},
       "encoding":{"x":{"field":"b2","type":"quantitative"},"y":{"datum":4.43},"y2":{"datum":4.07}}},
      {"data":{"name":"Fdm"},"mark":{"type":"text","text":["Differentiation","medium"],"fontSize":11.2,"lineHeight":11.5,"baseline":"top","align":"center"},
       "encoding":{"x":{"field":"c","type":"quantitative"},"y":{"datum":4.86}}}
     ]}
    ]},
   {"title":{"text":"(G)","offset":-4,"dx":-85},"width":241,"height":157,
    "resolve":{"scale":{"y":"independent"}},
    "layer":[
     {"layer":[
      {"data":{"name":"G"},"mark":{"type":"bar","size":14,"fill":"#6d6e78","stroke":"#262626","strokeWidth":0.8},
       "encoding":{"x":{"field":"p","type":"quantitative","scale":{"domain":[-0.98,9.34],"nice":false,"zero":false},"axis":{"labels":false,"ticks":false,"title":null}},
        "y":{"field":"v","type":"quantitative","scale":{"domain":[0,12],"nice":false},"axis":{"values":[0,2,4,6,8,10,12],"tickCount":20,"format":"d","labelFont":"Liberation Sans","labelFontSize":13.5,"title":["Fold increase in","absorbance at 510 nm"],"titleFont":"Liberation Sans","titleFontSize":14,"titleLineHeight":18,"titlePadding":8,"labelOverlap":false}}}},
      {"data":{"name":"G"},"transform":[{"filter":"isValid(datum.hi)"}],"mark":{"type":"rule","color":"#555555","strokeWidth":1},
       "encoding":{"x":{"field":"p","type":"quantitative"},"y":{"field":"v","type":"quantitative"},"y2":{"field":"hi"}}},
      {"data":{"name":"G"},"transform":[{"filter":"isValid(datum.hi)"}],"mark":{"type":"tick","orient":"horizontal","size":9,"thickness":1.2,"color":"#555555"},
       "encoding":{"x":{"field":"p","type":"quantitative"},"y":{"field":"hi","type":"quantitative"}}},
      {"data":{"name":"G"},"transform":[{"filter":"isValid(datum.sig)"}],"mark":{"type":"text","fontSize":11,"dy":-5,"baseline":"alphabetic","color":"#555555"},
       "encoding":{"x":{"field":"p","type":"quantitative"},"y":{"field":"hi","type":"quantitative"},"text":{"field":"sig"}}}
     ]},
     {"layer":[
      {"data":{"name":"Gtab"},"mark":{"type":"text","fontSize":12.5},
       "encoding":{"x":{"field":"p","type":"quantitative"},"y":{"field":"r","type":"quantitative","scale":{"domain":[-11.07,0.14],"nice":false,"zero":false,"reverse":true},"axis":null},"text":{"field":"s"}}},
      {"data":{"name":"Grows"},"mark":{"type":"text","fontSize":12.5,"align":"right","dx":-2},
       "encoding":{"x":{"datum":-0.98},"y":{"field":"r","type":"quantitative","axis":null},"text":{"field":"lab"}}},
      {"data":{"name":"Gdm"},"mark":{"type":"rule","color":"#555555","strokeWidth":0.9},
       "encoding":{"x":{"field":"b1","type":"quantitative"},"x2":{"field":"b2"},"y":{"datum":3.71}}},
      {"data":{"name":"Gdm"},"mark":{"type":"rule","color":"#555555","strokeWidth":0.9},
       "encoding":{"x":{"field":"b1","type":"quantitative"},"y":{"datum":3.71},"y2":{"datum":3.36}}},
      {"data":{"name":"Gdm"},"mark":{"type":"rule","color":"#555555","strokeWidth":0.9},
       "encoding":{"x":{"field":"b2","type":"quantitative"},"y":{"datum":3.71},"y2":{"datum":3.36}}},
      {"data":{"name":"Gdm"},"mark":{"type":"text","text":["Time of addition of AGN205723","relative to ciglitazone (hrs)"],"fontSize":12.5,"lineHeight":13,"baseline":"top","align":"center"},
       "encoding":{"x":{"field":"c","type":"quantitative"},"y":{"datum":3.93}}}
     ]}
    ]}
  ],"spacing":24}
 ],"spacing":22}
],
"spacing":14
}
